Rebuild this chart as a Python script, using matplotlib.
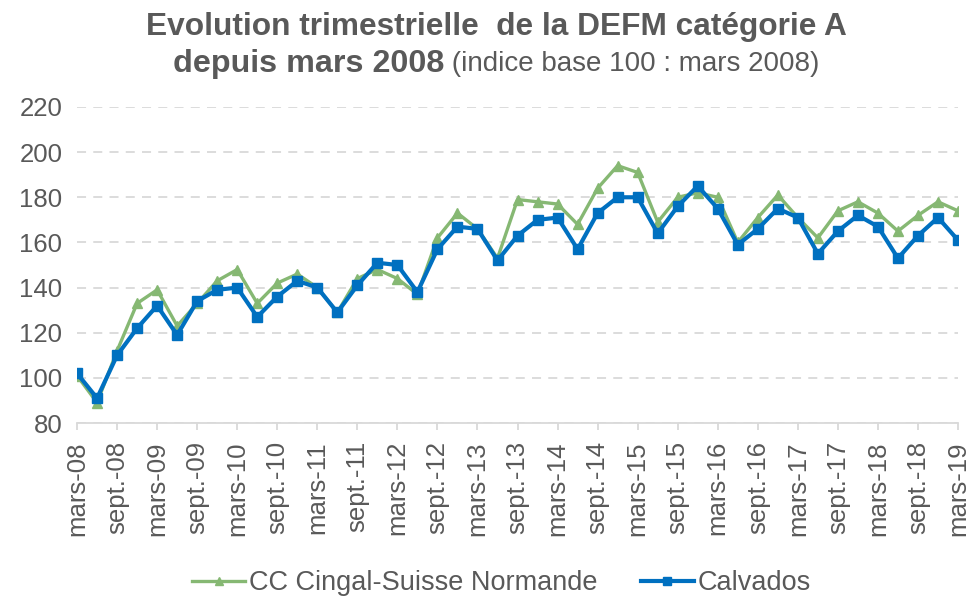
import matplotlib.pyplot as plt
import numpy as np

plt.rcParams["font.family"] = ["Liberation Sans", "DejaVu Sans"]

GREY = "#595959"
GREEN = "#86B873"
BLUE = "#0070C0"

years = [f"{y:02d}" for y in range(8, 20)]
quarter_names = ["mars", "juin", "sept.", "déc."]
quarters = [f"{q}-{y}" for y in years for q in quarter_names][:45]

cc_cingal = [
    101, 89, 112, 133, 139, 123, 133, 143, 148, 133,
    142, 146, 140, 129, 144, 148, 144, 137, 162, 173,
    166, 153, 179, 178, 177, 168, 184, 194, 191, 169,
    180, 182, 180, 160, 171, 181, 171, 162, 174, 178,
    173, 165, 172, 178, 174,
]
calvados = [
    102, 91, 110, 122, 132, 119, 134, 139, 140, 127,
    136, 143, 140, 129, 141, 151, 150, 138, 157, 167,
    166, 152, 163, 170, 171, 157, 173, 180, 180, 164,
    176, 185, 175, 159, 166, 175, 171, 155, 165, 172,
    167, 153, 163, 171, 161,
]

x = np.arange(len(quarters))

fig = plt.figure(figsize=(9.74, 5.98), dpi=100)
ax = fig.add_axes([0.0791, 0.2926, 0.9045, 0.5285])

ax.plot(x, cc_cingal, color=GREEN, lw=2.4, marker="^", ms=7.5,
        label="CC Cingal-Suisse Normande", zorder=3)
ax.plot(x, calvados, color=BLUE, lw=3, marker="s", ms=7.5,
        label="Calvados", zorder=4)

ax.set_xlim(0, len(quarters) - 1)
ax.set_ylim(80, 220)
ax.set_yticks(range(80, 221, 20))
ax.set_xticks(x[::2])
ax.set_xticklabels(quarters[::2], rotation=90)

ax.grid(axis="y", color="#D9D9D9", lw=1.3, ls=(0, (5, 4)))
ax.set_axisbelow(True)
for side in ("left", "right", "top"):
    ax.spines[side].set_visible(False)
ax.spines["bottom"].set_color("#D9D9D9")
ax.spines["bottom"].set_linewidth(1.3)

ax.tick_params(axis="y", length=0, pad=10.5, labelsize=18.5, labelcolor=GREY)
ax.tick_params(axis="x", length=5, width=1.3, color="#D9D9D9", pad=8,
               labelsize=18.5, labelcolor=GREY)

# title: first line bold, second line bold + regular, centred together
title_x = 496 / 974
fig.text(title_x, 1 - 27 / 598, "Evolution trimestrielle  de la DEFM catégorie A",
         ha="center", va="center", fontsize=22.8, fontweight="bold", color=GREY)
y2 = 1 - 64 / 598
t_bold = fig.text(0.5, y2, "depuis mars 2008", ha="left", va="center",
                  fontsize=23.2, fontweight="bold", color=GREY)
t_reg = fig.text(0.5, y2, " (indice base 100 : mars 2008)", ha="left",
                 va="center", fontsize=20, color=GREY)
fig.canvas.draw()
renderer = fig.canvas.get_renderer()
w_bold = t_bold.get_window_extent(renderer).width / fig.bbox.width
w_reg = t_reg.get_window_extent(renderer).width / fig.bbox.width
x0 = title_x - (w_bold + w_reg) / 2
t_bold.set_x(x0)
t_reg.set_x(x0 + w_bold)

fig.legend(loc="center", bbox_to_anchor=(0.515, 1 - 583 / 598), ncol=2,
           frameon=False, fontsize=19.5, labelcolor=GREY, handlelength=1.95,
           handletextpad=0.15, columnspacing=1.6, markerscale=0.8)

fig.savefig("out.png", dpi=100)
